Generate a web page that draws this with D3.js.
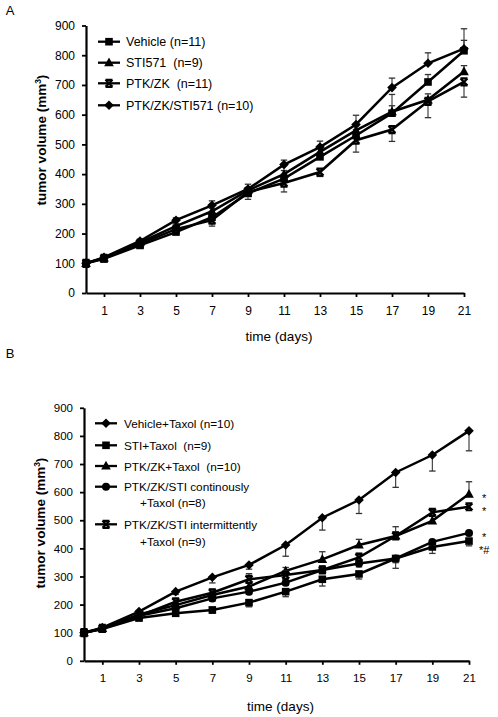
<!DOCTYPE html>
<html><head><meta charset="utf-8">
<script src="https://cdn.jsdelivr.net/npm/d3@7"></script>
<style>
html,body{margin:0;padding:0;background:#fff;}
svg text{font-family:"Liberation Sans",Arial,sans-serif;fill:#000;white-space:pre;}
</style></head>
<body>
<svg id="c" width="498" height="717"></svg>
<script>
// ---- shared ----
const days = [0,1,3,5,7,9,11,13,15,17,19,21];
const xTickVals = [1,3,5,7,9,11,13,15,17,19,21];
const yTickVals = [0,100,200,300,400,500,600,700,800,900];

// ---- panel A ----
const namesA = ["Vehicle (n=11)","STI571  (n=9)","PTK/ZK  (n=11)","PTK/ZK/STI571 (n=10)"];
const vehicleA  = [100,115,160,205,255,335,385,458,530,605,710,815];
const sti571A   = [100,118,170,225,275,345,400,475,547,610,650,745];
const ptkzkA    = [100,117,165,215,245,340,370,407,514,550,645,710];
const ptkzkstiA = [100,120,175,245,295,350,432,491,567,691,773,822];
const errVehicleA  = [0,4,6,8,12,10,15,15,20,63,25,35];
const errSti571A   = [0,4,6,8,10,10,12,15,15,20,20,20];
const errPtkzkA    = [0,-4,-6,-8,-20,-25,-30,-15,-40,-40,-55,-51];
const errPtkzkstiA = [0,4,6,8,15,16,15,20,31,32,35,67];

// ---- panel B ----
const namesB = ["Vehicle+Taxol (n=10)","STI+Taxol  (n=9)","PTK/ZK+Taxol  (n=10)","PTK/ZK/STI continously","PTK/ZK/STI intermittently"];
const names2B = [null,null,null,"+Taxol (n=8)","+Taxol (n=9)"];
const vehicleB = [100,118,175,246,297,341,412,509,572,670,732,818];
const stiB     = [100,113,152,169,181,207,246,290,309,364,405,426];
const ptkzkB   = [100,115,165,198,234,264,320,361,412,444,498,593];
const contB    = [100,115,160,187,222,246,278,323,346,364,423,455];
const intermB  = [100,115,160,210,242,290,305,323,368,444,528,548];
const errVehicleB = [0,-4,-6,-10,-20,-15,-40,-44,-48,-53,-57,-71];
const errStiB     = [0,-4,-6,-8,-12,-15,-18,-24,-18,-35,-23,-17];
const errPtkzkB   = [0,4,6,10,10,12,12,27,20,33,20,44];
const errContB    = [0,-3,-5,-8,-10,-10,-10,-12,-12,-15,-12,-10];
const errIntermB  = [0,3,5,10,12,20,15,15,15,15,10,10];
const starsB = [{txt:"*",v:593},{txt:"*",v:548},{txt:"*",v:455},{txt:"*#",v:426}];

const svg = d3.select("#c");

function marker(g, type, x, y){
  if(type==="square"){
    g.append("rect").attr("x",x-3.8).attr("y",y-3.8).attr("width",7.6).attr("height",7.6).attr("fill","#000");
  } else if(type==="triangle"){
    g.append("path").attr("d",`M${x},${y-5.2}L${x+4.8},${y+3.6}L${x-4.8},${y+3.6}Z`).attr("fill","#000");
  } else if(type==="diamond"){
    g.append("path").attr("d",`M${x},${y-4.8}L${x+4.8},${y}L${x},${y+4.8}L${x-4.8},${y}Z`).attr("fill","#000");
  } else if(type==="circle"){
    g.append("circle").attr("cx",x).attr("cy",y).attr("r",4).attr("fill","#000");
  } else if(type==="x"){
    g.append("path").attr("d",`M${x-3.5},${y-3.5}L${x+3.5},${y+3.5}M${x+3.5},${y-3.5}L${x-3.5},${y+3.5}M${x-3.5},${y-3.5}L${x+3.5},${y-3.5}M${x-3.5},${y+3.5}L${x+3.5},${y+3.5}`)
      .attr("stroke","#000").attr("stroke-width",2.2).attr("fill","none");
  }
}

function drawPanel(cfg){
  const x = d3.scaleLinear().domain([0,21]).range(cfg.xr);
  const y = d3.scaleLinear().domain([0,900]).range(cfg.yr);
  const g = svg.append("g");

  const ya = g.append("g").attr("transform",`translate(${cfg.xr[0]},0)`)
    .call(d3.axisLeft(y).tickValues(yTickVals).tickSize(4).tickSizeOuter(0).tickPadding(cfg.tpad));
  const xa = g.append("g").attr("transform",`translate(0,${cfg.yr[0]})`)
    .call(d3.axisBottom(x).tickValues(xTickVals).tickSize(4).tickSizeOuter(0).tickPadding(9));
  [ya,xa].forEach(a=>{
    a.select(".domain").attr("stroke","#000").attr("stroke-width",2.2);
    a.selectAll(".tick line").attr("stroke","#000").attr("stroke-width",1.8);
    a.selectAll(".tick text").attr("font-size",cfg.tfs).attr("font-family","Liberation Sans, Arial, sans-serif").attr("fill","#222");
  });

  const yl = g.append("text").attr("transform",`translate(${cfg.ylx},${cfg.yly}) rotate(-90)`)
    .attr("text-anchor","middle").attr("font-size",13.5).attr("font-weight","bold");
  yl.append("tspan").text("tumor volume (mm");
  yl.append("tspan").attr("font-size",8.5).attr("dy",-5.5).text("3");
  yl.append("tspan").attr("dy",5.5).text(")");
  g.append("text").attr("x",(cfg.xr[0]+cfg.xr[1])/2+4).attr("y",cfg.yr[0]+cfg.xtl)
    .attr("text-anchor","middle").attr("font-size",13.5).text("time (days)");
  g.append("text").attr("x",10).attr("y",cfg.lbly).attr("text-anchor","middle").attr("font-size",13).text(cfg.label);

  const line = d3.line().x((d,i)=>x(days[i])).y(d=>y(d));
  cfg.series.forEach(s=>{
    const sg = g.append("g");
    s.vals.forEach((v,i)=>{
      const e = s.err[i]; if(!e) return;
      const xx = x(days[i]), y0 = y(v), y1 = y(v+e);
      sg.append("line").attr("x1",xx).attr("x2",xx).attr("y1",y0).attr("y2",y1).attr("stroke","#333").attr("stroke-width",1.1);
      sg.append("line").attr("x1",xx-3.2).attr("x2",xx+3.2).attr("y1",y1).attr("y2",y1).attr("stroke","#333").attr("stroke-width",1.3);
    });
    sg.append("path").datum(s.vals).attr("d",line).attr("fill","none").attr("stroke","#000").attr("stroke-width",2.5);
    s.vals.forEach((v,i)=>marker(sg,s.m,x(days[i]),y(v)));
  });

  cfg.legend.forEach(l=>{
    g.append("line").attr("x1",cfg.lx[0]).attr("x2",cfg.lx[1]).attr("y1",l.y).attr("y2",l.y).attr("stroke","#000").attr("stroke-width",2.3);
    marker(g,l.m,(cfg.lx[0]+cfg.lx[1])/2,l.y);
    g.append("text").attr("x",cfg.ltx).attr("y",l.y+4.5).attr("font-size",cfg.lfs).text(l.name);
    if(l.name2) g.append("text").attr("x",cfg.ltx2).attr("y",l.y2+4.5).attr("font-size",cfg.lfs).text(l.name2);
  });

  if(cfg.stars){
    let prev = -Infinity;
    cfg.stars.forEach(s=>{
      let by = Math.max(y(s.v)+8, prev+12.8);
      prev = by;
      g.append("text").attr("font-size",11).attr("x",cfg.xr[1]+(s.txt.length>1?10:13)).attr("y",by).text(s.txt);
    });
  }
  return {x,y};
}

drawPanel({
  label:"A", lbly:15,
  xr:[86,464], yr:[293,25.5], tpad:7, tfs:12, ylx:46, yly:140, xtl:48,
  series:[
    {vals:vehicleA, err:errVehicleA, m:"square"},
    {vals:sti571A, err:errSti571A, m:"triangle"},
    {vals:ptkzkA, err:errPtkzkA, m:"x"},
    {vals:ptkzkstiA, err:errPtkzkstiA, m:"diamond"}
  ],
  lx:[98,120], ltx:126, lfs:12.5,
  legend:[
    {name:namesA[0], m:"square", y:41.7},
    {name:namesA[1], m:"triangle", y:62.7},
    {name:namesA[2], m:"x", y:83.3},
    {name:namesA[3], m:"diamond", y:105.3}
  ]
});

drawPanel({
  label:"B", lbly:358,
  xr:[84,469], yr:[660.8,407.8], tpad:7, tfs:11.5, ylx:45, yly:523, xtl:50,
  series:[
    {vals:vehicleB, err:errVehicleB, m:"diamond"},
    {vals:stiB, err:errStiB, m:"square"},
    {vals:ptkzkB, err:errPtkzkB, m:"triangle"},
    {vals:contB, err:errContB, m:"circle"},
    {vals:intermB, err:errIntermB, m:"x"}
  ],
  lx:[95,117], ltx:124, ltx2:140, lfs:11.8,
  legend:[
    {name:namesB[0], m:"diamond", y:423.3},
    {name:namesB[1], m:"square", y:445.3},
    {name:namesB[2], m:"triangle", y:466},
    {name:namesB[3], name2:names2B[3], m:"circle", y:486.7, y2:502},
    {name:namesB[4], name2:names2B[4], m:"x", y:524.3, y2:541}
  ],
  stars:starsB
});
</script>
</body></html>
